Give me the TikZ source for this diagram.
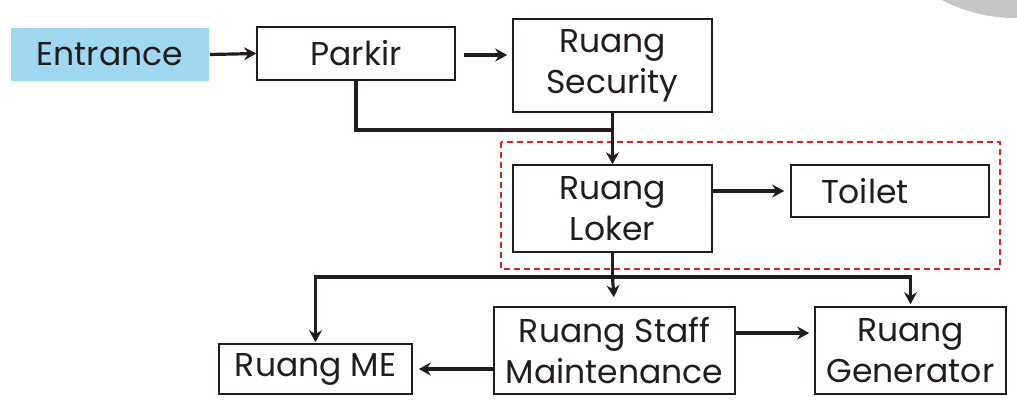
\documentclass[tikz,border=0pt]{standalone}
\usepackage{fontspec}
\setmainfont{Poppins}
\usetikzlibrary{arrows.meta}
\usetikzlibrary{positioning}

\definecolor{entryblue}{RGB}{160,216,242}
\definecolor{zonered}{RGB}{226,30,40}
\definecolor{inkblack}{RGB}{35,28,28}

\tikzset{
    room/.style = {draw=inkblack, line width=1.6pt, rectangle, align=center,
        inner sep=0pt, font=\fontsize{33}{41}\selectfont, text=inkblack},
    flow/.style = {draw=inkblack, line width=3.2pt,
        -{Stealth[length=12pt, width=13pt, inset=4pt]}},
    wire/.style = {draw=inkblack, line width=3.2pt}
}

\begin{document}
\begin{tikzpicture}[x=1pt, y=-1pt]

    % Frame and corner shape
    \useasboundingbox (0,0) rectangle (1017,405);
    \begin{scope}
        \clip (0,0) rectangle (1017,405);
        \fill [gray!45] (1015,-139) circle [radius=157];
    \end{scope}

    % Draw rooms
    \node [room, draw=none, fill=entryblue, minimum width=198pt, minimum height=53pt] (entrance) at (110,54.5) {Entrance};
    \node [room, minimum width=198pt, minimum height=53pt] (parkir) at (356,53.5) {Parkir};
    \node [room, minimum width=199pt, minimum height=93pt] (security) at (612.5,65.5) {Ruang\\Security};
    \node [room, minimum width=199pt, minimum height=87pt] (loker) at (612.5,208.5) {Ruang\\Loker};
    \node [room, minimum width=198pt, minimum height=52pt, text width=138pt, align=left, inner xsep=30pt] (toilet) at (890,191) {Toilet};
    \node [room, minimum width=241pt, minimum height=87pt] (staff) at (614.5,350.5) {Ruang Staff\\Maintenance};
    \node [room, minimum width=193pt, minimum height=50pt] (me) at (315.5,369) {Ruang ME};
    \node [room, minimum width=191pt, minimum height=87pt] (generator) at (910.5,350.5) {Ruang\\Generator};

    % Draw zone
    \draw [zonered, line width=2pt, dash pattern=on 6pt off 4pt] (501,142) rectangle (1000,269);

    % Draw junctions
    \coordinate (jparkir) at (security.south |- 0,130);
    \coordinate (jloker) at (loker.south |- 0,277);

    % Draw arrows
    \draw [flow] (entrance.east) -- (parkir.west);
    \draw [flow, shorten <=8pt, shorten >=5pt] ([yshift=-1.5pt]parkir.east) -- ([yshift=-1.5pt]parkir.east -| security.west);
    \draw [wire] (parkir.south) |- (jparkir);
    \draw [flow] (security.south) -- (loker.north);
    \draw [flow, shorten >=6pt] (toilet.west -| loker.east) -- (toilet.west);
    \draw [wire] (loker.south) -- (jloker);
    \draw [flow, shorten >=9pt] (jloker) -- (staff.north);
    \draw [flow, shorten >=1pt] (jloker) -| (me.north);
    \draw [flow, shorten >=2pt] (jloker) -| (generator.north);
    \draw [flow, shorten >=6pt] (staff.west |- me.east) -- (me.east);
    \draw [flow, shorten >=5pt] ([yshift=17.5pt]staff.east) -- ([yshift=17.5pt]generator.west);

\end{tikzpicture}
\end{document}
